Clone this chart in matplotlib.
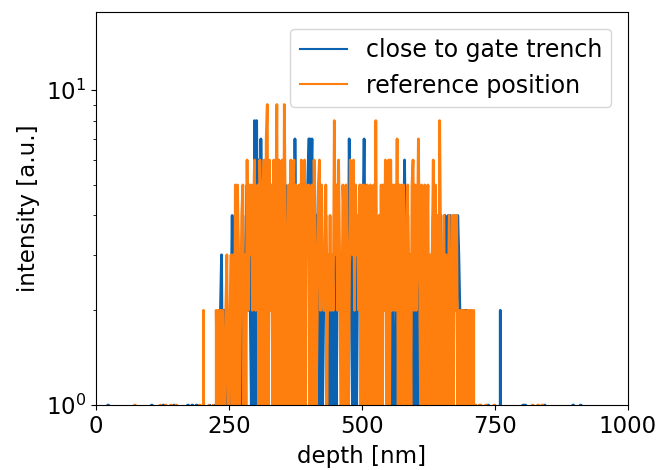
import numpy as np
import matplotlib
matplotlib.use("Agg")
import matplotlib.pyplot as plt

# counts per 2 nm bin, depth 200..720 nm
core_start, core_step = 200, 2
gate_counts = [
    0, 0, 0, 0,
    0, 0, 0, 1, 0, 0, 0, 0, 1,
    0, 1, 0, 1, 2, 3, 1, 2,
    2, 1, 2, 1, 2,
    1, 2, 4, 2, 3,
    3, 1, 4, 2,
    2, 3, 1, 4, 2, 3,
    3, 5, 2, 4, 2,
    1, 3, 0, 8, 1,
    8, 2, 6, 3, 7,
    4, 2, 5, 3, 4,
    2, 5, 3, 2, 4,
    4, 2, 3, 5, 2,
    6, 3, 2, 4, 3,
    3, 2, 5, 3, 2,
    4, 3, 2, 5, 3,
    2, 7, 3, 2, 4,
    3, 5, 2, 4, 3,
    2, 4, 3, 5, 7,
    7, 5, 7, 3, 4,
    2, 4, 3, 5, 2,
    0, 2, 1, 2, 3,
    4, 2, 0, 3, 1,
    3, 1, 2, 0, 3,
    1, 4, 3, 2, 3,
    2, 3, 4, 3, 2,
    4, 2, 7, 3, 2,
    1, 4, 0, 3, 1,
    3, 4, 2, 3, 2,
    4, 7, 3, 2, 4,
    2, 3, 4, 2, 3,
    3, 2, 4, 3, 2,
    2, 3, 4, 2, 3,
    3, 2, 4, 3, 2,
    4, 2, 0, 2, 1,
    0, 3, 2, 4, 3,
    2, 4, 2, 3, 6,
    3, 2, 4, 2, 3,
    2, 3, 0, 2, 1,
    0, 2, 1, 3, 2,
    2, 3, 2, 4, 3,
    3, 2, 3, 2, 2,
    3, 4, 2, 3, 4,
    2, 4, 3, 4, 2,
    3, 2, 4, 2, 3,
    4, 2, 4, 2, 3,
    2, 4, 3, 2, 4,
    3, 2, 1, 2, 1,
    2, 1, 2, 1, 0,
    1, 0, 1, 0, 1,
    0, 1, 0, 0, 0,
]
ref_counts = [
    0, 2, 0, 0,
    0, 0, 1, 0, 0, 0, 1, 0, 0,
    2, 1, 2, 0, 2, 1, 2, 1,
    1, 2, 3, 1, 1,
    2, 3, 1, 3, 1,
    5, 1, 5, 3,
    1, 2, 4, 5, 1, 3,
    1, 6, 2, 5, 3,
    5, 2, 4, 6, 2,
    3, 5, 1, 6, 4,
    1, 5, 6, 1, 7,
    9, 1, 6, 2, 5,
    1, 6, 1, 4, 9,
    1, 6, 5, 1, 6,
    1, 9, 4, 1, 2,
    5, 1, 6, 1, 4,
    6, 1, 5, 4, 1,
    5, 1, 6, 2, 1,
    6, 1, 5, 3, 5,
    1, 4, 5, 1, 6,
    3, 1, 2, 5, 6,
    2, 5, 3, 2, 2,
    5, 1, 3, 2, 4,
    2, 3, 2, 8, 3,
    5, 2, 6, 3, 1,
    1, 5, 4, 1, 5,
    3, 1, 2, 6, 4,
    3, 6, 2, 5, 3,
    4, 2, 5, 1, 5,
    1, 5, 2, 1, 5,
    1, 4, 5, 1, 2,
    5, 1, 8, 2, 1,
    4, 1, 5, 1, 5,
    2, 6, 1, 5, 6,
    1, 6, 2, 5, 2,
    5, 2, 7, 1, 5,
    1, 5, 1, 5, 4,
    1, 2, 5, 1, 3,
    1, 5, 6, 2, 5,
    2, 3, 7, 3, 1,
    5, 1, 3, 5, 1,
    3, 5, 1, 3, 1,
    3, 6, 1, 5, 1,
    4, 1, 8, 3, 1,
    2, 4, 1, 3, 1,
    2, 4, 1, 1, 4,
    1, 4, 2, 4, 1,
    2, 1, 2, 2, 0,
    2, 1, 0, 2, 2,
    1, 2, 2, 1, 2,
    0, 1, 0, 0, 1,
]
# sparse counts outside the main peak
gate_tail_depth = [22, 24, 104, 106, 126, 128, 146, 148, 172, 174, 180, 182,
                   188, 190, 736, 738, 760, 802, 804, 806, 808, 842, 844,
                   896, 898, 910, 912]
gate_tail_count = [1, 1, 1, 1, 1, 1, 1, 1, 1, 1, 1, 1,
                   1, 1, 1, 1, 2, 1, 1, 1, 1, 1, 1,
                   1, 1, 1, 1]
ref_tail_depth = [72, 74, 120, 122, 130, 132, 140, 142, 150, 152, 194, 196,
                  722, 724, 732, 734, 748, 750, 820, 822, 830, 832, 838, 840]
ref_tail_count = [1] * len(ref_tail_depth)


def full_series(core, tail_d, tail_c):
    depth = np.arange(0, 1001, core_step)
    y = np.zeros(len(depth))
    i0 = (core_start - depth[0]) // core_step
    y[i0:i0 + len(core)] = core
    for d, c in zip(tail_d, tail_c):
        y[(d - depth[0]) // core_step] = c
    return depth, y


d1, y1 = full_series(gate_counts, gate_tail_depth, gate_tail_count)
d2, y2 = full_series(ref_counts, ref_tail_depth, ref_tail_count)

plt.rcParams['font.size'] = 16.5
fig = plt.figure(figsize=(6.56, 4.7), dpi=100)
ax = fig.add_axes([0.1463, 0.138, 0.811, 0.8365])
ax.plot(d1, y1, color='#0a62b0', lw=2.0, label='close to gate trench')
ax.plot(d2, y2, color='#ff7f0e', lw=2.0, label='reference position')
ax.set_yscale('log')
ax.set_ylim(1, 17.7)
ax.set_xlim(0, 1000)
ax.set_xticks([0, 250, 500, 750, 1000])
ax.set_xlabel('depth [nm]', labelpad=5)
ax.set_ylabel('intensity [a.u.]', labelpad=4)
leg = ax.legend(loc='upper right', fontsize=17, borderaxespad=0.7)
for h in leg.get_lines():
    h.set_linewidth(1.5)
fig.savefig('out.png', dpi=100)
